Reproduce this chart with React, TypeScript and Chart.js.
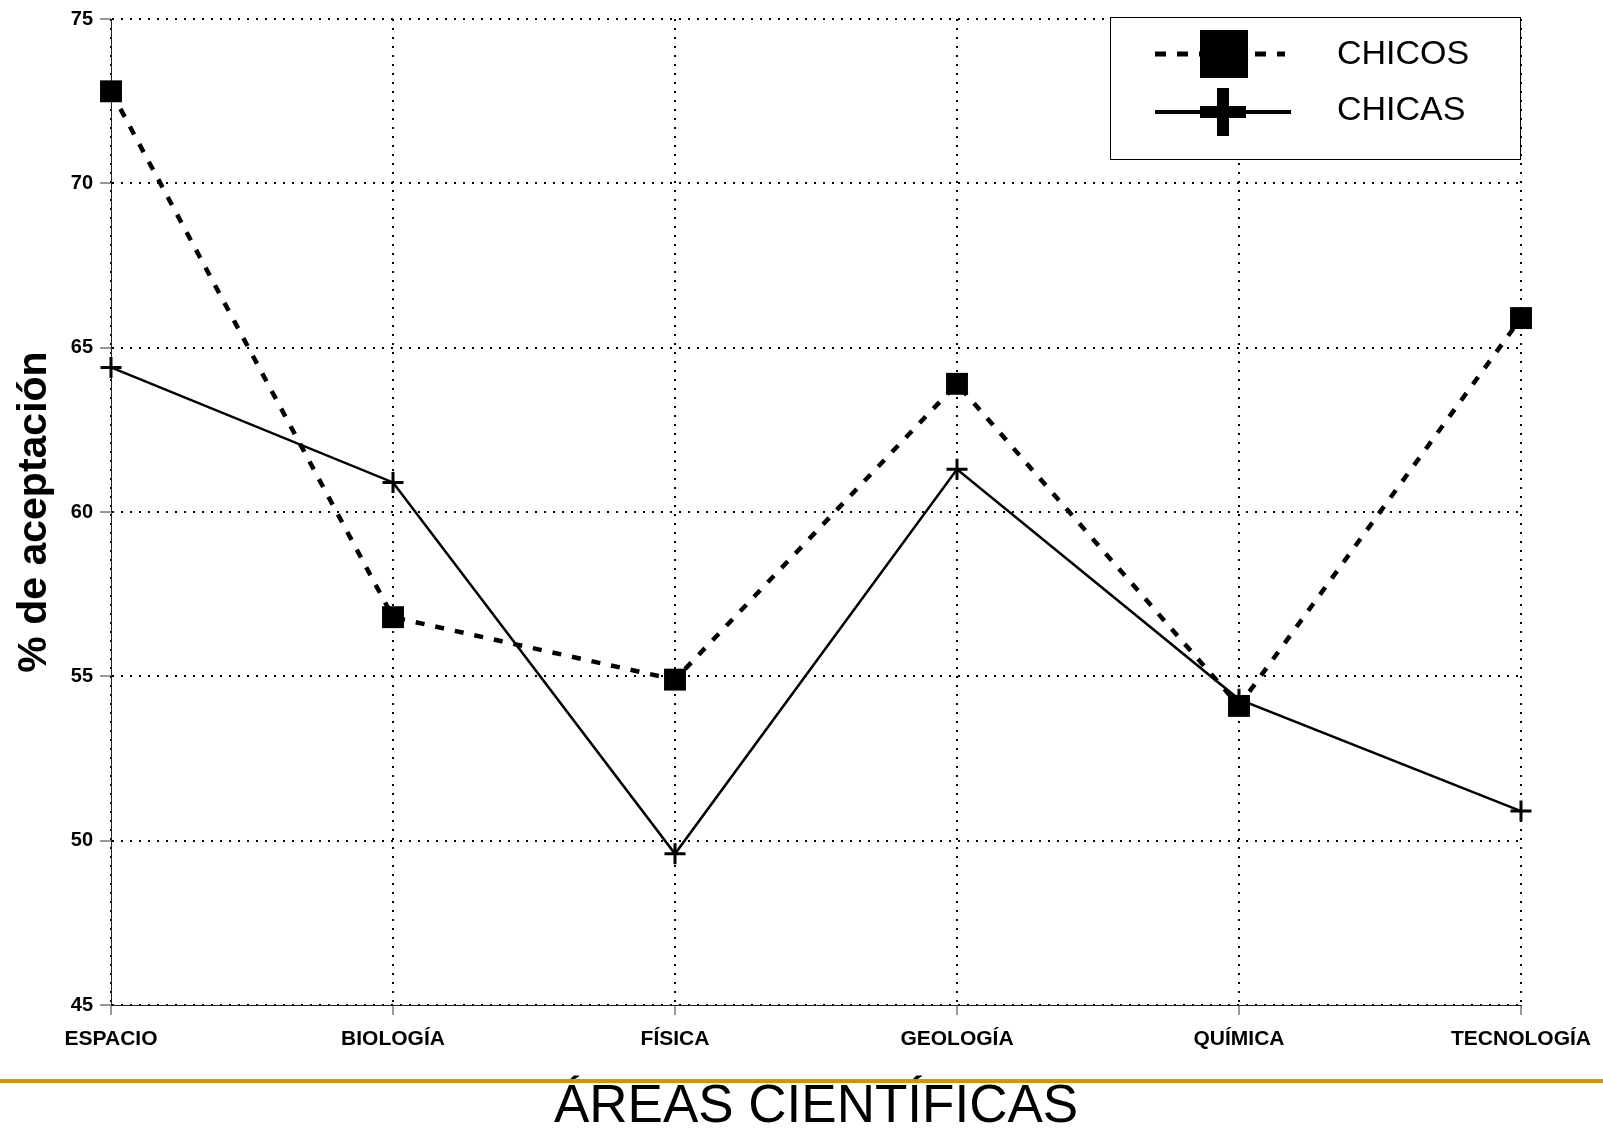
import { useEffect, useRef } from 'react';
import { Chart, registerables, Plugin } from 'chart.js';

Chart.register(...registerables);

// data
const areas = ['ESPACIO', 'BIOLOGÍA', 'FÍSICA', 'GEOLOGÍA', 'QUÍMICA', 'TECNOLOGÍA'];
const chicos = [72.8, 56.8, 54.9, 63.9, 54.1, 65.9];
const chicas = [64.4, 60.9, 49.6, 61.3, 54.3, 50.9];
const seriesNames = ['CHICOS', 'CHICAS'];
const yMin = 45;
const yMax = 75;
const yStep = 5;

const FONT = '"Liberation Sans", Arial, Helvetica, sans-serif';

// legend box (dashed line + big square / solid line + big cross) and the gold rule
const decorations: Plugin<'line'> = {
  id: 'decorations',
  afterDraw(chart) {
    const { ctx, chartArea } = chart;
    ctx.save();

    // gold rule above the x title
    ctx.fillStyle = '#CC9900';
    ctx.fillRect(0, chart.height - 52, chart.width, 4);

    // legend frame
    const bw = 411;
    const bh = 143;
    const bx = chartArea.right - bw;
    const by = chartArea.top - 2;
    ctx.fillStyle = '#fff';
    ctx.fillRect(bx, by, bw, bh);
    ctx.strokeStyle = '#000';
    ctx.lineWidth = 1;
    ctx.strokeRect(bx + 0.5, by + 0.5, bw - 1, bh - 1);

    // CHICOS sample
    const y1 = by + 37;
    ctx.fillStyle = '#000';
    ctx.lineWidth = 5;
    ctx.lineCap = 'butt';
    ctx.setLineDash([11, 11]);
    ctx.beginPath();
    ctx.moveTo(bx + 45, y1);
    ctx.lineTo(bx + 90, y1);
    ctx.moveTo(bx + 145, y1);
    ctx.lineTo(bx + 175, y1);
    ctx.stroke();
    ctx.setLineDash([]);
    ctx.fillRect(bx + 90, y1 - 24, 48, 48);

    // CHICAS sample
    const y2 = by + 95;
    ctx.lineWidth = 4;
    ctx.beginPath();
    ctx.moveTo(bx + 45, y2);
    ctx.lineTo(bx + 181, y2);
    ctx.stroke();
    ctx.fillRect(bx + 90, y2 - 6, 46, 12);
    ctx.fillRect(bx + 107, y2 - 24, 12, 48);

    // labels
    ctx.font = `34px ${FONT}`;
    ctx.textBaseline = 'middle';
    ctx.textAlign = 'left';
    ctx.fillText(seriesNames[0], bx + 227, y1 + 1);
    ctx.fillText(seriesNames[1], bx + 227, y2 - 1);

    ctx.restore();
  },
};

const App = () => {
  const chartRef = useRef<HTMLCanvasElement>(null);

  useEffect(() => {
    if (!chartRef.current) return;

    const chart = new Chart(chartRef.current, {
      type: 'line',
      data: {
        labels: areas,
        datasets: [
          {
            label: seriesNames[0],
            data: chicos,
            borderColor: '#000',
            backgroundColor: '#000',
            borderWidth: 4.5,
            borderDash: [9, 11],
            borderCapStyle: 'butt',
            pointStyle: 'rect',
            pointRadius: 15.5,
            pointBorderWidth: 0,
            pointBackgroundColor: '#000',
            tension: 0,
            clip: false,
          },
          {
            label: seriesNames[1],
            data: chicas,
            borderColor: '#000',
            backgroundColor: '#000',
            borderWidth: 2.5,
            pointStyle: 'cross',
            pointRadius: 10.5,
            pointBorderWidth: 3,
            pointBorderColor: '#000',
            tension: 0,
            clip: false,
          },
        ],
      },
      options: {
        responsive: false,
        animation: false,
        devicePixelRatio: 1,
        layout: { padding: { left: 0, top: 19, right: 81, bottom: 0 } },
        plugins: {
          legend: { display: false },
          tooltip: { enabled: false },
        },
        scales: {
          x: {
            grid: {
              color: '#000',
              lineWidth: 2,
              tickLength: 10,
              tickColor: '#333',
              tickWidth: 1,
            },
            border: { color: '#222', width: 1, dash: [2, 7] },
            ticks: {
              color: '#000',
              padding: 12,
              maxRotation: 0,
              autoSkip: false,
              font: { family: FONT, size: 21, weight: 'bold' },
            },
            title: {
              display: true,
              text: 'ÁREAS CIENTÍFICAS',
              color: '#000',
              font: { family: FONT, size: 53, lineHeight: 0.9 },
              padding: { top: 0, bottom: 0 },
            },
            afterFit: (scale) => {
              scale.height = 126;
            },
          },
          y: {
            min: yMin,
            max: yMax,
            grid: {
              color: '#000',
              lineWidth: 2,
              tickLength: 11,
              tickColor: '#333',
              tickWidth: 1,
            },
            border: { color: '#222', width: 1, dash: [2, 7] },
            ticks: {
              stepSize: yStep,
              color: '#000',
              padding: 7,
              font: { family: FONT, size: 20, weight: 'bold' },
            },
            title: {
              display: true,
              text: '% de aceptación',
              color: '#000',
              font: { family: FONT, size: 41, weight: 'bold', lineHeight: 1 },
              padding: { top: 14, bottom: 0 },
            },
            afterFit: (scale) => {
              scale.width = 111;
            },
          },
        },
      },
      plugins: [decorations],
    });

    return () => {
      chart.destroy();
    };
  }, []);

  return (
    <div style={{ position: 'absolute', left: 0, top: 0, width: 1603, height: 1131, background: '#fff' }}>
      <canvas ref={chartRef} width={1603} height={1131} style={{ display: 'block' }} />
    </div>
  );
};

export default App;
